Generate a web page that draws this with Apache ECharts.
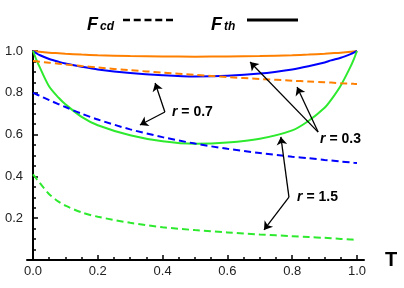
<!DOCTYPE html>
<html><head><meta charset="utf-8">
<script src="https://cdn.jsdelivr.net/npm/echarts@6/dist/echarts.min.js"></script>
<style>html,body{margin:0;padding:0;background:#fff}#c{width:404px;height:288px}</style>
</head><body><div id="c"></div>
<script>
const T = [0,0.01,0.02,0.05,0.08,0.1,0.15,0.2,0.3,0.4,0.5,0.6,0.7,0.8,0.85,0.9,0.92,0.95,0.98,0.99,1];
const fthR03 = [1.0,0.998,0.996,0.992,0.989,0.987,0.983,0.98,0.976,0.974,0.973,0.974,0.976,0.98,0.983,0.987,0.989,0.992,0.996,0.998,1.0];
const fthR07 = [1.0,0.99,0.981,0.962,0.948,0.94,0.925,0.912,0.895,0.884,0.878,0.881,0.892,0.912,0.927,0.945,0.955,0.968,0.985,0.992,1.0];
const fthR15 = [1.0,0.96,0.925,0.83,0.775,0.745,0.685,0.645,0.597,0.568,0.556,0.562,0.58,0.62,0.665,0.728,0.766,0.835,0.925,0.96,1.0];
const fcdR03 = [0.952,0.951,0.949,0.944,0.939,0.936,0.928,0.921,0.908,0.897,0.886,0.875,0.866,0.858,0.854,0.85,0.849,0.846,0.844,0.843,0.842];
const fcdR07 = [0.80,0.793,0.786,0.765,0.745,0.732,0.700,0.672,0.625,0.588,0.557,0.532,0.512,0.494,0.487,0.479,0.476,0.471,0.467,0.465,0.464];
const fcdR15 = [0.41,0.39,0.37,0.315,0.278,0.26,0.228,0.207,0.178,0.157,0.143,0.132,0.122,0.114,0.11,0.106,0.104,0.101,0.098,0.097,0.096];
const majorTicks = [0,0.2,0.4,0.6,0.8,1.0];
const minorTicksX = [0.05,0.1,0.15,0.25,0.3,0.35,0.45,0.5,0.55,0.65,0.7,0.75,0.85,0.9,0.95];
const yLabelTicks = [0.2,0.4,0.6,0.8,1.0];
const minorTicksY = [0.05,0.1,0.15,0.25,0.3,0.35,0.45,0.5,0.55,0.65,0.7,0.75,0.85,0.9,0.95];
// annotations: label text, label anchor, junction point, arrow targets (data coords)
const annR07 = {text:'0.7', label:[0.429,0.708], from:[0.407,0.708], to:[[0.377,0.847],[0.330,0.646]]};
const annR03 = {text:'0.3', label:[0.886,0.579], from:[0.880,0.612], to:[[0.670,0.947],[0.815,0.828]]};
const annR15 = {text:'1.5', label:[0.815,0.301], from:[0.790,0.301], to:[[0.765,0.589],[0.713,0.144]]};

const FONT = 'Liberation Sans, Arial, sans-serif';
const ORANGE = '#ff8000', BLUE = '#0000ff', GREEN = '#2eea2e';
const zip = a => T.map((t,i)=>[t,a[i]]);

const anns = [annR07, annR03, annR15];
const mlData = [];
anns.forEach(a => a.to.forEach(p => mlData.push([{coord:a.from, symbol:'none'},{coord:p, symbol:'arrow', symbolSize:8}])));
const mpData = anns.map(a => ({coord:a.label, label:{formatter:'{i|r}{n| = '+a.text+'}'}}));

function ser(name, data, color, dashed, extra) {
  return Object.assign({
    name, type:'line', data: zip(data), showSymbol:false, smooth:0.3,
    lineStyle:{color, width:2, type: dashed ? [7,4] : 'solid'},
    itemStyle:{color}, silent:true, z: dashed ? 3 : 2
  }, extra || {});
}

const xmin = -0.0185, xmax = 1.0216;
const option = {
  animation:false,
  grid:{left:27, right:40, top:51, bottom:28, outerBoundsMode:'none', containLabel:false},
  xAxis:[{
    type:'value', min:xmin, max:xmax, position:'bottom',
    name:'T', nameLocation:'end', nameGap:21,
    nameTextStyle:{fontFamily:FONT, fontWeight:'bold', fontSize:20, color:'#000', verticalAlign:'middle', padding:[4,0,0,0]},
    axisLine:{show:true, onZero:false, lineStyle:{color:'#000', width:2}},
    axisTick:{show:true, inside:true, length:5, customValues:majorTicks, lineStyle:{color:'#000', width:1.5}},
    axisLabel:{show:true, customValues:majorTicks, margin:5, fontFamily:FONT, fontSize:13, color:'#222', formatter:v=>v.toFixed(1)},
    splitLine:{show:false}
  },{
    type:'value', min:xmin, max:xmax, position:'bottom',
    axisLine:{show:false, onZero:false},
    axisTick:{show:true, inside:true, length:3, customValues:minorTicksX, lineStyle:{color:'#000', width:1.5}},
    axisLabel:{show:false}, splitLine:{show:false}
  }],
  yAxis:[{
    type:'value', min:0, max:1, position:'left',
    axisLine:{show:true, onZero:true, lineStyle:{color:'#000', width:2}},
    axisTick:{show:true, inside:true, length:5, customValues:yLabelTicks, lineStyle:{color:'#000', width:1.5}},
    axisLabel:{show:true, customValues:yLabelTicks, margin:4, fontFamily:FONT, fontSize:13, color:'#222', formatter:v=>v.toFixed(1)},
    splitLine:{show:false}
  },{
    type:'value', min:0, max:1, position:'left',
    axisLine:{show:false, onZero:true},
    axisTick:{show:true, inside:true, length:3, customValues:minorTicksY, lineStyle:{color:'#000', width:1.5}},
    axisLabel:{show:false}, splitLine:{show:false}
  }],
  series:[
    ser('Fth r=0.3', fthR03, ORANGE, false),
    ser('Fth r=0.7', fthR07, BLUE, false),
    ser('Fth r=1.5', fthR15, GREEN, false),
    ser('Fcd r=0.3', fcdR03, ORANGE, true),
    ser('Fcd r=0.7', fcdR07, BLUE, true),
    ser('Fcd r=1.5', fcdR15, GREEN, true, {
      markLine:{silent:true, symbol:['none','arrow'], symbolSize:8, label:{show:false},
        lineStyle:{color:'#000', width:1.3, type:'solid'}, itemStyle:{color:'#000'},
        emphasis:{disabled:true}, data:mlData, z:5},
      markPoint:{silent:true, symbol:'circle', symbolSize:0, data:mpData,
        label:{show:true, position:'right', distance:0,
          rich:{i:{fontFamily:FONT, fontSize:14, fontWeight:'bold', fontStyle:'italic', color:'#000'},
                n:{fontFamily:FONT, fontSize:14, fontWeight:'bold', color:'#000'}}}}
    })
  ],
  graphic:[
    {type:'text', left:87, top:16, style:{text:'F', font:'italic bold 18px '+FONT, fill:'#000'}},
    {type:'text', left:100, top:21, style:{text:'cd', font:'italic bold 12px '+FONT, fill:'#000'}},
    {type:'line', shape:{x1:123, y1:20, x2:173, y2:20}, style:{stroke:'#000', lineWidth:2.5, lineDash:[7,3.75]}},
    {type:'text', left:211, top:16, style:{text:'F', font:'italic bold 18px '+FONT, fill:'#000'}},
    {type:'text', left:224, top:21, style:{text:'th', font:'italic bold 12px '+FONT, fill:'#000'}},
    {type:'line', shape:{x1:247, y1:20, x2:298, y2:20}, style:{stroke:'#000', lineWidth:3}}
  ]
};
const chart = echarts.init(document.getElementById('c'), null, {renderer:'canvas'});
chart.setOption(option);
</script></body></html>
